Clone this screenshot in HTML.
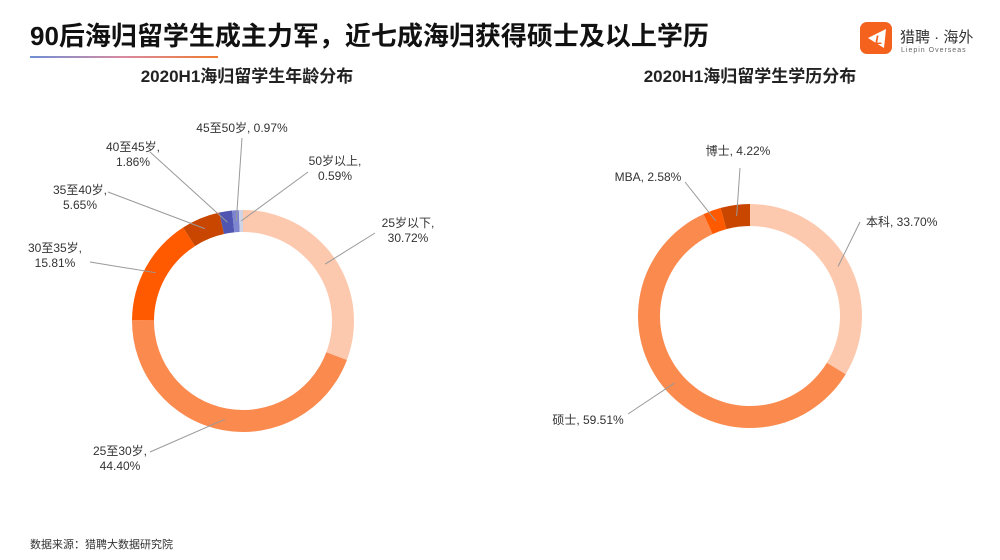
<!DOCTYPE html>
<html><head><meta charset="utf-8"><style>
body{margin:0;background:#fff;font-family:"Liberation Sans","Noto Sans CJK SC",sans-serif}
svg{display:block}
text{font-family:"Liberation Sans","Noto Sans CJK SC",sans-serif}
</style></head><body>
<svg id="c" width="1000" height="560">
<defs><linearGradient id="ul" x1="0" x2="1"><stop offset="0" stop-color="#6f8fd6"/><stop offset="0.5" stop-color="#d98aa0"/><stop offset="1" stop-color="#f07a30"/></linearGradient></defs>
<text x="30" y="45" font-size="26" font-weight="bold" fill="#111">90后海归留学生成主力军，近七成海归获得硕士及以上学历</text>
<rect x="30" y="56" width="188" height="2" fill="url(#ul)"/>
<g>
<rect x="860" y="22" width="32" height="32" rx="7" fill="#f5621e"/>
<path d="M868 38 L886 29 L884 48 Z" fill="#fff"/>
<text x="875" y="44" font-size="12" font-weight="bold" fill="#f5621e" font-style="italic">L</text>
<text x="900" y="42" font-size="15" fill="#333">猎聘 · 海外</text>
<text x="901" y="52" font-size="7" fill="#666" letter-spacing="1">Liepin Overseas</text>
</g>
<text x="247" y="82" font-size="17" font-weight="bold" text-anchor="middle" fill="#222">2020H1海归留学生年龄分布</text>
<text x="750" y="82" font-size="17" font-weight="bold" text-anchor="middle" fill="#222">2020H1海归留学生学历分布</text>
<text x="30" y="548" font-size="11" fill="#333">数据来源：猎聘大数据研究院</text>
<g id="g1"></g><g id="g2"></g>
</svg>
<script>
const ageCats=["25岁以下","25至30岁","30至35岁","35至40岁","40至45岁","45至50岁","50岁以上"];
const ageVals=[30.72,44.40,15.81,5.65,1.86,0.97,0.59];
const eduCats=["本科","硕士","MBA","博士"];
const eduVals=[33.70,59.51,2.58,4.22];
const ageColors=["#fdc9ae","#fb8a4e","#ff5a00","#c84600","#4f55b0","#7f86d0","#cfd3e6"];
const eduColors=["#fdc9ae","#fb8a4e","#ff5a00","#c84600"];
const ageLabels=[[408,227,"middle",2],[120,455,"middle",2],[55,252,"middle",2],[80,194,"middle",2],[133,151,"middle",2],[242,132,"middle",1],[335,165,"middle",2]];
const eduLabels=[[866,226,"start",1],[588,424,"middle",1],[648,181,"middle",1],[738,155,"middle",1]];
const ageAnchors=[[375,233],[150,452],[90,262],[108,192],[150,152],[242,138],[308,172]];
const eduAnchors=[[860,222],[628,414],[685,182],[740,168]];
const NS="http://www.w3.org/2000/svg";
function mk(t,a,p){const e=document.createElementNS(NS,t);for(const k in a)e.setAttribute(k,a[k]);p.appendChild(e);return e;}
function pt(cx,cy,r,a){return [cx+r*Math.sin(a),cy-r*Math.cos(a)];}
function donut(gid,cx,cy,R,r0,cats,vals,colors,labels,anchors,prefix){
 const g=document.getElementById(gid);
 const tot=vals.reduce((s,v)=>s+v,0);let a=0;
 vals.forEach((v,i)=>{
  const a1=a+v/tot*2*Math.PI;
  const p1=pt(cx,cy,R,a),p2=pt(cx,cy,R,a1),p3=pt(cx,cy,r0,a1),p4=pt(cx,cy,r0,a);
  const lg=(a1-a)>Math.PI?1:0;
  const s=mk("path",{d:`M${p1}A${R},${R} 0 ${lg} 1 ${p2}L${p3}A${r0},${r0} 0 ${lg} 0 ${p4}Z`,fill:colors[i]},g);
  
  
  const m=pt(cx,cy,(R+r0)/2,(a+a1)/2);
  const l=mk("line",{x1:m[0],y1:m[1],x2:anchors[i][0],y2:anchors[i][1],stroke:"#999","stroke-width":1},g);
  
  
  const L=labels[i];
  const t=mk("text",{x:L[0],y:L[1],"text-anchor":L[2],"font-size":12,fill:"#333"},g);
  
  
  const lines=L[3]>1?[cats[i]+",",v.toFixed(2)+"%"]:[cats[i]+", "+v.toFixed(2)+"%"];
  lines.forEach((s2,j)=>{const ts=mk("tspan",{x:L[0],dy:j?15:0},t);ts.textContent=s2;});
  a=a1;
 });
}
donut("g1",243,321,111,89,ageCats,ageVals,ageColors,ageLabels,ageAnchors,"age");
donut("g2",750,316,112,90,eduCats,eduVals,eduColors,eduLabels,eduAnchors,"edu");
</script>
</body></html>
